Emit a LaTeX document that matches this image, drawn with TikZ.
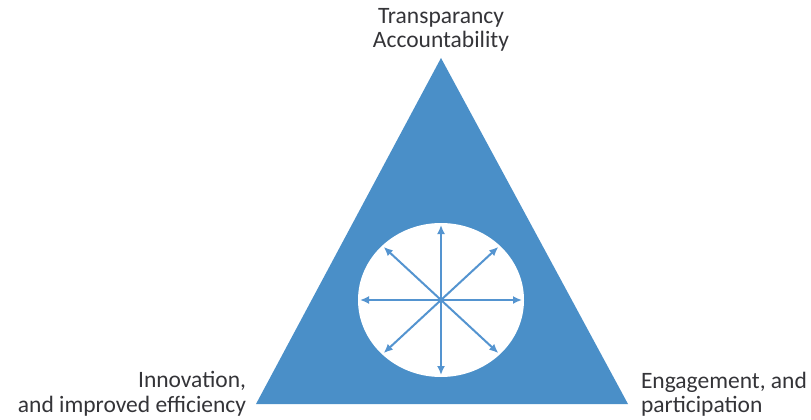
\documentclass[tikz,border=0pt]{standalone}
\usepackage{fontspec}
\setmainfont{Carlito}
\usetikzlibrary{arrows.meta,shapes.geometric,calc}
\definecolor{triblue}{RGB}{74,143,200}
\definecolor{spokeblue}{RGB}{84,148,208}
\definecolor{labelgray}{RGB}{52,52,56}
\begin{document}
\begin{tikzpicture}[x=1pt,y=-1pt,inner sep=0pt,outer sep=0pt,
corner/.style={text=labelgray,font=\fontsize{23.5}{24.5}\selectfont,align=center},
spoke/.style={draw=spokeblue,line width=2pt,-{Latex[length=9pt,width=8pt]}}]
\useasboundingbox (0,0) rectangle (811,420);
\coordinate (top) at (441,58);
\coordinate (left) at (256,404);
\coordinate (right) at (628,404);
\fill[triblue] (top) -- (right) -- (left) -- cycle;
\draw (441,300) node[fill=white,ellipse,minimum width=166pt,minimum height=154pt] (hole) {};
\coordinate (hub) at (441,300);
% spokes out to the rim
\foreach \a in {0,45,...,315}
{
\coordinate (tip\a) at ($(hub)+(\a:81 and 75)$);
\draw[spoke] (hub) -- (tip\a);
}
\draw (441,30) node[corner] (goal) {Transparancy\\Accountability};
\draw (246,394) node[corner,align=right,anchor=east] (innov) {Innovation,\\and improved efficiency};
\draw (641,394) node[corner,align=left,anchor=west] (engage) {Engagement, and\\participation};
\end{tikzpicture}
\end{document}
